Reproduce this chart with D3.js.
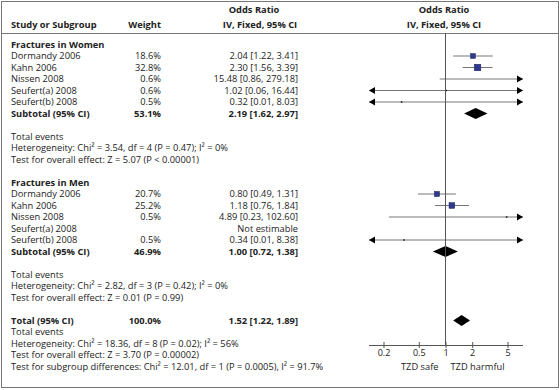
<!DOCTYPE html>
<html lang="en">
  <head>
    <meta charset="utf-8">
    <title>Forest plot - fractures</title>
    <style>
      body { margin: 0; background: #fff; }
      text { font-family: 'Open Sans', sans-serif; font-size: 9.3px; fill: #222; }
      .bold { font-weight: bold; }
    </style>
  </head>
  <body>
    <div id="chart-area"></div>
    <script src="https://cdn.jsdelivr.net/npm/d3@7"></script>
    <script>
      // women subgroup
      const women_studies = ['Dormandy 2006', 'Kahn 2006', 'Nissen 2008', 'Seufert(a) 2008', 'Seufert(b) 2008'];
      const women_weight = [18.6, 32.8, 0.6, 0.6, 0.5];
      const women_or = [2.04, 2.30, 15.48, 1.02, 0.32];
      const women_lo = [1.22, 1.56, 0.86, 0.06, 0.01];
      const women_hi = [3.41, 3.39, 279.18, 16.44, 8.03];

      // men subgroup (null = not estimable)
      const men_studies = ['Dormandy 2006', 'Kahn 2006', 'Nissen 2008', 'Seufert(a) 2008', 'Seufert(b) 2008'];
      const men_weight = [20.7, 25.2, 0.5, null, 0.5];
      const men_or = [0.80, 1.18, 4.89, null, 0.34];
      const men_lo = [0.49, 0.76, 0.23, null, 0.01];
      const men_hi = [1.31, 1.84, 102.60, null, 8.38];

      // pooled: women subtotal, men subtotal, total
      const pooled_labels = ['Subtotal (95% CI)', 'Subtotal (95% CI)', 'Total (95% CI)'];
      const pooled_weight = [53.1, 46.9, 100.0];
      const pooled_or = [2.19, 1.00, 1.52];
      const pooled_lo = [1.62, 0.72, 1.22];
      const pooled_hi = [2.97, 1.38, 1.89];

      const women_notes = ['Total events',
        'Heterogeneity: Chi² = 3.54, df = 4 (P = 0.47); I² = 0%',
        'Test for overall effect: Z = 5.07 (P < 0.00001)'];
      const men_notes = ['Total events',
        'Heterogeneity: Chi² = 2.82, df = 3 (P = 0.42); I² = 0%',
        'Test for overall effect: Z = 0.01 (P = 0.99)'];
      const total_notes = ['Total events',
        'Heterogeneity: Chi² = 18.36, df = 8 (P = 0.02); I² = 56%',
        'Test for overall effect: Z = 3.70 (P = 0.00002)',
        'Test for subgroup differences: Chi² = 12.01, df = 1 (P = 0.0005), I² = 91.7%'];

      const tick_values = [0.2, 0.5, 1, 2, 5];

      const svg_width = 560;
      const svg_height = 390;

      const svg = d3.select('#chart-area')
        .append('svg')
        .attr('width', svg_width)
        .attr('height', svg_height);

      // build table rows
      const rows = [];
      const add_group = (title, studies, weight, or, lo, hi, p, notes) => {
        rows.push({ label: title, bold: true });
        studies.forEach((s, i) => rows.push({ label: s, weight: weight[i], or: or[i], lo: lo[i], hi: hi[i], study: true }));
        rows.push({ label: pooled_labels[p], weight: pooled_weight[p], or: pooled_or[p], lo: pooled_lo[p], hi: pooled_hi[p], pooled: true, bold: true });
        rows.push({});
        notes.forEach(n => rows.push({ label: n }));
        rows.push({});
      };
      add_group('Fractures in Women', women_studies, women_weight, women_or, women_lo, women_hi, 0, women_notes);
      add_group('Fractures in Men', men_studies, men_weight, men_or, men_lo, men_hi, 1, men_notes);
      rows.push({ label: pooled_labels[2], weight: pooled_weight[2], or: pooled_or[2], lo: pooled_lo[2], hi: pooled_hi[2], pooled: true, bold: true });
      total_notes.forEach(n => rows.push({ label: n }));

      const y_scale = d3.scaleLinear().domain([0, 28]).range([44, 366]);
      const x_scale = d3.scaleLog().domain([0.2, 5]).range([383.5, 507.5]);
      const x_min = 369;
      const x_max = 523;
      const size_scale = d3.scaleSqrt().domain([0, 32.8]).range([0, 6.5]);

      // frame
      svg.append('rect')
        .attr('x', 1.5).attr('y', 1.5)
        .attr('width', 557).attr('height', 386)
        .attr('fill', 'none').attr('stroke', '#777');
      svg.append('line')
        .attr('x1', 1.5).attr('x2', 558.5)
        .attr('y1', 33.5).attr('y2', 33.5)
        .attr('stroke', '#777');

      // headers
      const header = svg.append('g').attr('class', 'bold');
      header.append('text').attr('x', 11).attr('y', 28).text('Study or Subgroup');
      header.append('text').attr('x', 161).attr('y', 28).attr('text-anchor', 'end').text('Weight');
      header.append('text').attr('x', 254).attr('y', 13).attr('text-anchor', 'middle').text('Odds Ratio');
      header.append('text').attr('x', 260).attr('y', 28).attr('text-anchor', 'middle').text('IV, Fixed, 95% CI');
      header.append('text').attr('x', 444).attr('y', 13).attr('text-anchor', 'middle').text('Odds Ratio');
      header.append('text').attr('x', 444).attr('y', 28).attr('text-anchor', 'middle').text('IV, Fixed, 95% CI');

      const row_g = svg.selectAll('g.row').data(rows).enter()
        .append('g')
        .attr('class', d => d.bold ? 'row bold' : 'row')
        .attr('transform', (d, i) => `translate(0, ${y_scale(i)})`);

      row_g.filter(d => d.label)
        .append('text')
        .attr('x', 11).attr('y', 3.5)
        .text(d => d.label);

      row_g.filter(d => d.weight != null)
        .append('text')
        .attr('x', 161).attr('y', 3.5)
        .attr('text-anchor', 'end')
        .text(d => `${d.weight.toFixed(1)}%`);

      row_g.filter(d => d.study || d.pooled)
        .append('text')
        .attr('x', 298).attr('y', 3.5)
        .attr('text-anchor', 'end')
        .text(d => d.or == null ? 'Not estimable' : `${d.or.toFixed(2)} [${d.lo.toFixed(2)}, ${d.hi.toFixed(2)}]`);

      // null line
      svg.append('line')
        .attr('x1', x_scale(1)).attr('x2', x_scale(1))
        .attr('y1', 33.5).attr('y2', 345)
        .attr('stroke', '#555');

      // study CIs
      const studies = row_g.filter(d => d.study && d.or != null);
      const clamp = v => Math.max(x_min, Math.min(x_max, x_scale(v)));
      studies.append('line')
        .attr('x1', d => clamp(d.lo)).attr('x2', d => clamp(d.hi))
        .attr('y1', 0.5).attr('y2', 0.5)
        .attr('stroke', '#777');
      studies.filter(d => x_scale(d.hi) > x_max)
        .append('path')
        .attr('d', `M${x_max},0.5 L${x_max - 6},-3 L${x_max - 6},4 Z`)
        .attr('fill', '#000');
      studies.filter(d => x_scale(d.lo) < x_min)
        .append('path')
        .attr('d', `M${x_min},0.5 L${x_min + 6},-3 L${x_min + 6},4 Z`)
        .attr('fill', '#000');
      studies.filter(d => x_scale(d.or) >= x_min && x_scale(d.or) <= x_max)
        .append('rect')
        .attr('x', d => x_scale(d.or) - Math.max(1.5, size_scale(d.weight)) / 2)
        .attr('y', d => 0.5 - Math.max(1.5, size_scale(d.weight)) / 2)
        .attr('width', d => Math.max(1.5, size_scale(d.weight)))
        .attr('height', d => Math.max(1.5, size_scale(d.weight)))
        .attr('fill', d => d.weight > 5 ? '#2f3a8c' : '#111')
        .attr('stroke', d => d.weight > 5 ? '#1c2260' : 'none')
        .attr('stroke-width', 0.5);

      // pooled diamonds
      row_g.filter(d => d.pooled)
        .append('path')
        .attr('d', d => `M${x_scale(d.lo)},0.5 L${x_scale(d.or)},-5 L${x_scale(d.hi)},0.5 L${x_scale(d.or)},6 Z`)
        .attr('fill', '#000');

      // axis
      const axis_y = 345;
      svg.append('line')
        .attr('x1', x_min).attr('x2', x_max)
        .attr('y1', axis_y + 0.5).attr('y2', axis_y + 0.5)
        .attr('stroke', '#555');
      const axis = svg.append('g')
        .attr('transform', `translate(0, ${axis_y})`)
        .call(d3.axisBottom(x_scale).tickValues(tick_values).tickFormat(d3.format('')).tickSize(3).tickPadding(2));
      axis.select('.domain').remove();
      axis.selectAll('.tick line').attr('y1', -3).attr('stroke', '#555');
      axis.selectAll('.tick text').style('font-family', "'Open Sans', sans-serif").style('font-size', '9px').attr('fill', '#222');

      svg.append('text').attr('x', x_scale(1) - 7).attr('y', 369.5).attr('text-anchor', 'end').text('TZD safe');
      svg.append('text').attr('x', x_scale(1) + 5).attr('y', 369.5).text('TZD harmful');
    </script>
  </body>
</html>
